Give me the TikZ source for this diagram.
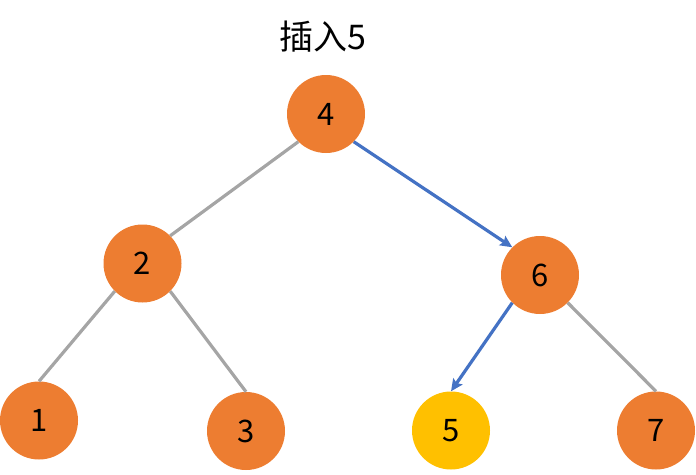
\documentclass[tikz,border=0pt]{standalone}
\usepackage{fontspec}
\setmainfont{Noto Sans CJK SC}
\usetikzlibrary{arrows.meta}
\definecolor{nodeorange}{HTML}{ED7D31}
\definecolor{nodeyellow}{HTML}{FFC000}
\definecolor{edgegray}{HTML}{A5A5A5}
\definecolor{edgeblue}{HTML}{4472C4}
\begin{document}
\begin{tikzpicture}[x=1pt,y=-1pt,
  treenode/.style={circle,fill=nodeorange,draw=none,minimum size=78pt,inner sep=0pt,font=\fontsize{31}{31}\selectfont},
  newnode/.style={treenode,fill=nodeyellow},
  plainedge/.style={draw=edgegray,line width=3.2pt},
  pathedge/.style={draw=edgeblue,line width=3.2pt,-{Stealth[length=12pt,width=11pt,inset=2pt]}}]
\useasboundingbox (0,0) rectangle (696,474);
\node[font=\fontsize{34}{34}\selectfont] (title) at (323,37) {插入5};
\node[treenode] (n4) at (326,114) {4};
\node[treenode] (n2) at (142.5,263.5) {2};
\node[treenode] (n6) at (540,275) {6};
\node[treenode] (n1) at (39,420.5) {1};
\node[treenode] (n3) at (246,431) {3};
\node[newnode] (n5) at (451,430.5) {5};
\node[treenode] (n7) at (656,430.5) {7};
\draw[plainedge] (n4.south west) -- (n2.north east);
\draw[plainedge] (n2.south west) -- (n1.north);
\draw[plainedge] (n2.south east) -- (n3.north);
\draw[plainedge] (n6.south east) -- (n7.north);
\draw[pathedge] (n4.south east) -- (n6.north west);
\draw[pathedge] (n6.south west) -- (n5.north);
\end{tikzpicture}
\end{document}
